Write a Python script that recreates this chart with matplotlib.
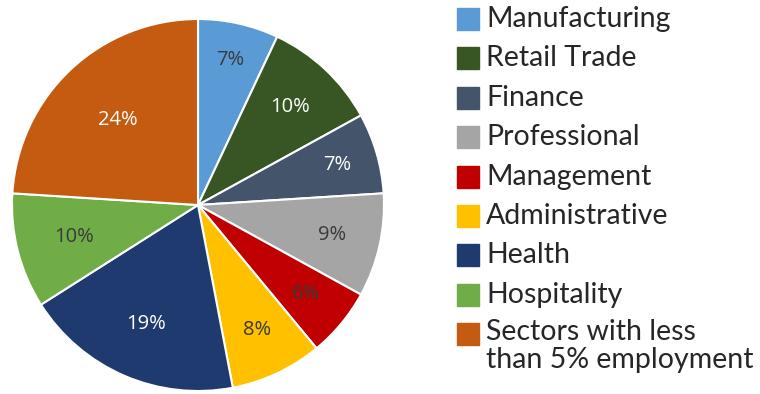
import numpy as np
import matplotlib.pyplot as plt
from matplotlib.patches import Rectangle

# employment share by sector (%)
sectors = ["Manufacturing", "Retail Trade", "Finance", "Professional", "Management",
           "Administrative", "Health", "Hospitality", "Sectors with less\nthan 5% employment"]
shares = [7, 10, 7, 9, 6, 8, 19, 10, 24]

colors = ["#5B9BD5", "#375623", "#44546A", "#A5A5A5", "#C00000",
          "#FFC000", "#1F3A6E", "#70AD47", "#C55A11"]
label_colors = ["#3a3a3a", "white", "white", "#3a3a3a", "#3a3a3a",
                "#3a3a3a", "white", "#3a3a3a", "white"]
label_radius = [0.80, 0.72, 0.78, 0.74, 0.75, 0.74, 0.70, 0.69, 0.63]

W, H = 760, 394
fig = plt.figure(figsize=(W / 100, H / 100), dpi=100)

# pie axes: centre ~ (198, 205) px, radius ~186 px
cx, cy, r = 198, 205, 186
ax = fig.add_axes([(cx - r) / W, (H - cy - r) / H, 2 * r / W, 2 * r / H])
wedges, _ = ax.pie(shares, colors=colors, startangle=90, counterclock=False,
                   wedgeprops=dict(edgecolor="white", linewidth=1.5))
ax.set_xlim(-1, 1)
ax.set_ylim(-1, 1)
ax.set_aspect("equal")

for w, val, col, rr in zip(wedges, shares, label_colors, label_radius):
    ang = np.deg2rad((w.theta1 + w.theta2) / 2)
    ax.text(rr * np.cos(ang), rr * np.sin(ang), f"{val}%", ha="center", va="center",
            color=col, fontsize=14.5, family="Open Sans")

# legend drawn by hand
sq = 22
for i, (name, col) in enumerate(zip(sectors, colors)):
    yc = 19 + 39.4 * i
    fig.patches.append(Rectangle((457 / W, 1 - (yc + sq / 2) / H), sq / W, sq / H,
                                 transform=fig.transFigure, color=col))
    if "\n" in name:
        fig.text(486 / W, 1 - (yc - 15) / H, name, ha="left", va="top",
                 fontsize=20.5, color="#262626", family="Lato", linespacing=1.07)
    else:
        fig.text(486 / W, 1 - yc / H, name, ha="left", va="center",
                 fontsize=20.5, color="#262626", family="Lato")

fig.savefig("out.png", dpi=100)
